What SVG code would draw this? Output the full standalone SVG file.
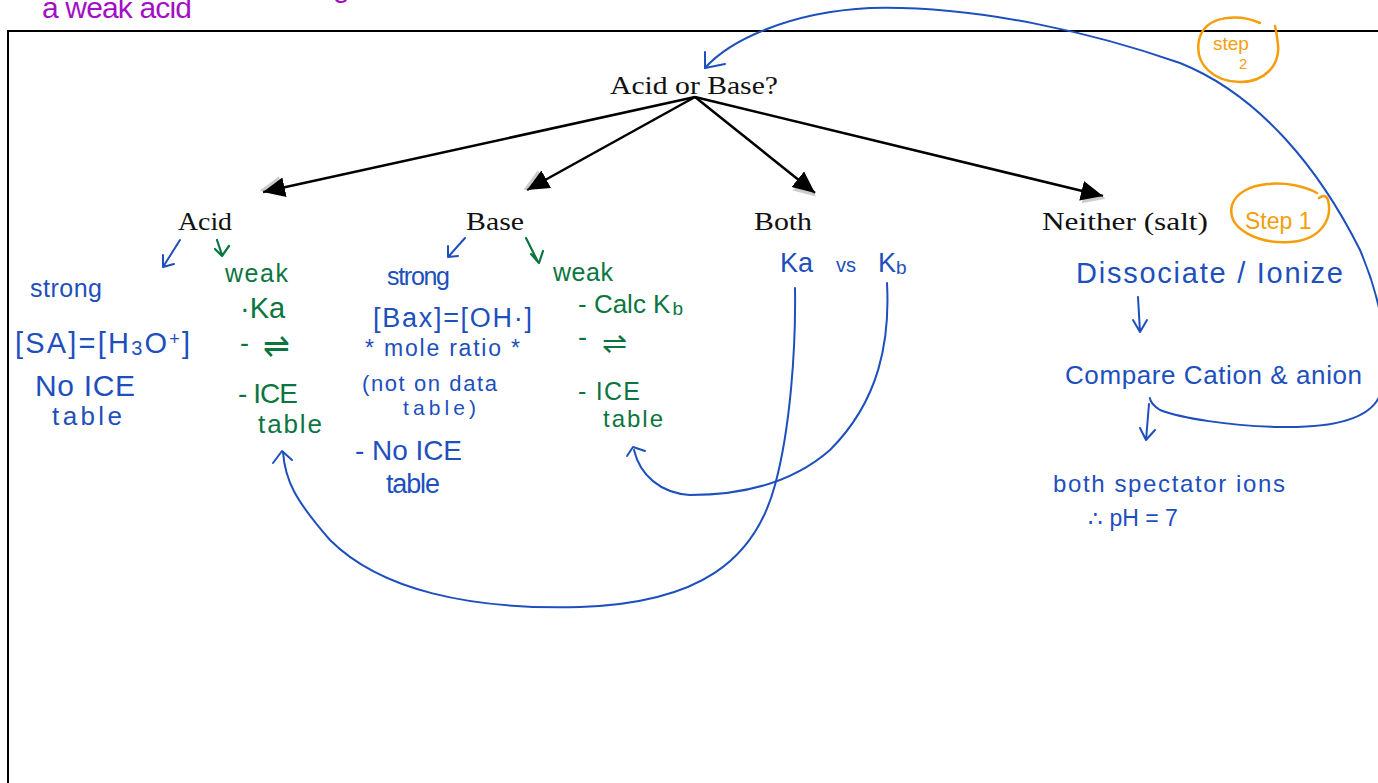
<svg xmlns="http://www.w3.org/2000/svg" width="1378" height="783" viewBox="0 0 1378 783">
<style>
.typed{font-family:"Liberation Serif","DejaVu Serif",serif;font-size:25px;fill:#111}
.hb{font-family:"Liberation Sans","Noto Sans",sans-serif;fill:#1d4fbd}
.hg{font-family:"Liberation Sans","Noto Sans",sans-serif;fill:#0b7540}
.ho{font-family:"Liberation Sans","Noto Sans",sans-serif;fill:#f59d0a}
.hp{font-family:"Liberation Sans","Noto Sans",sans-serif;fill:#a30fc4}
.conn{stroke:#000;stroke-width:2.5;fill:none}
.bl{stroke:#1d4fbd;stroke-width:2;fill:none;stroke-linecap:round;stroke-linejoin:round}
.gr{stroke:#0b7540;stroke-width:2.2;fill:none;stroke-linecap:round;stroke-linejoin:round}
.or{stroke:#f59d0a;stroke-width:2.5;fill:none;stroke-linecap:round}
</style>
<defs>
<marker id="tri" markerUnits="userSpaceOnUse" markerWidth="30" markerHeight="26" refX="22" refY="10" orient="auto">
<path d="M3,2 L25,12 L3,22 z" fill="#aaa" opacity="0.6"/>
<path d="M0,0 L22,10 L0,20 z" fill="#000"/>
</marker>
</defs>
<rect width="1378" height="783" fill="#fff"/>
<path d="M1380,31 L8,31 L8,790" stroke="#000" stroke-width="2" fill="none"/>
<text class="hp" x="42" y="18" font-size="30" textLength="150" lengthAdjust="spacing">a weak acid</text>
<text class="hp" x="333" y="-3" font-size="30">g</text>

<g id="connectors">
<line class="conn" x1="695" y1="97" x2="263" y2="192" marker-end="url(#tri)"/>
<line class="conn" x1="695" y1="97" x2="527" y2="190" marker-end="url(#tri)"/>
<line class="conn" x1="695" y1="97" x2="815" y2="193" marker-end="url(#tri)"/>
<line class="conn" x1="695" y1="97" x2="1103" y2="196" marker-end="url(#tri)"/>
<path class="bl" d="M180,240 L163,267 M163,255 L163,267 L174,264"/>
<path class="gr" d="M217,240 L222,255 M215,249 L222,256 L229,246"/>
<path class="bl" d="M465,238 L449,256 M448,246 L448,257 L458,256"/>
<path class="gr" d="M526,238 L538,262 M531,254 L539,263 L543,251"/>
<path class="bl" d="M1138,297 L1140,332 M1133,320 L1140,332 L1147,320"/>
<path class="bl" d="M1149,404 L1146,440 M1140,428 L1146,440 L1155,430"/>
<path class="bl" d="M705,68 C730,40 790,12 870,8 C980,5 1100,35 1180,63 C1260,95 1320,170 1360,250 C1375,285 1395,350 1380,395 C1370,420 1330,428 1280,427 C1230,426 1180,418 1160,410 C1152,405 1150,400 1150,398"/>
<path class="bl" d="M705,52 L705,68 L725,64"/>
<path class="bl" d="M795,288 C796,350 790,430 775,485 C755,560 700,603 580,607 C470,610 380,590 330,540 C295,500 285,480 283,452"/>
<path class="bl" d="M273,463 L282,451 L292,460"/>
<path class="bl" d="M887,283 C890,340 880,400 830,450 C790,485 740,495 690,495 C660,493 640,475 634,450"/>
<path class="bl" d="M627,456 L633,447 L645,451"/>
</g>

<g id="root"><text class="typed" x="610" y="94" textLength="168" lengthAdjust="spacingAndGlyphs">Acid or Base?</text></g>
<g id="acid"><text class="typed" x="178" y="230" textLength="54" lengthAdjust="spacingAndGlyphs">Acid</text></g>
<g id="base"><text class="typed" x="466" y="230" textLength="58" lengthAdjust="spacingAndGlyphs">Base</text></g>
<g id="both"><text class="typed" x="754" y="230" textLength="58" lengthAdjust="spacingAndGlyphs">Both</text></g>
<g id="neither"><text class="typed" x="1042" y="230" textLength="166" lengthAdjust="spacingAndGlyphs">Neither (salt)</text></g>

<g id="acid-strong">
<text class="hb" x="30" y="297" font-size="25" textLength="72" lengthAdjust="spacing">strong</text>
<text class="hb" x="15" y="353" font-size="29" textLength="175" lengthAdjust="spacing">[SA]=[H<tspan font-size="20" dy="2">3</tspan><tspan dy="-2">O</tspan><tspan font-size="18" dy="-8">+</tspan><tspan dy="8">]</tspan></text>
<text class="hb" x="35" y="396" font-size="30" textLength="100" lengthAdjust="spacing">No ICE</text>
<text class="hb" x="52" y="425" font-size="26" textLength="70" lengthAdjust="spacing">table</text>
</g>
<g id="acid-weak">
<text class="hg" x="225" y="282" font-size="25" textLength="63" lengthAdjust="spacing">weak</text>
<text class="hg" x="240" y="318" font-size="29">·Ka</text>
<text class="hg" x="240" y="352" font-size="27">-</text>
<text class="hg" x="263" y="357" font-size="32">⇌</text>
<text class="hg" x="238" y="403" font-size="28" textLength="60" lengthAdjust="spacing">- ICE</text>
<text class="hg" x="258" y="433" font-size="26" textLength="64" lengthAdjust="spacing">table</text>
</g>
<g id="base-strong">
<text class="hb" x="387" y="285" font-size="25" textLength="63" lengthAdjust="spacing">strong</text>
<text class="hb" x="373" y="327" font-size="27" textLength="159" lengthAdjust="spacing">[Bax]=[OH·]</text>
<text class="hb" x="365" y="356" font-size="23" textLength="155" lengthAdjust="spacing">* mole ratio *</text>
<text class="hb" x="362" y="391" font-size="22" textLength="135" lengthAdjust="spacing">(not on data</text>
<text class="hb" x="403" y="415" font-size="21" textLength="73" lengthAdjust="spacing">table)</text>
<text class="hb" x="355" y="460" font-size="28" textLength="107" lengthAdjust="spacing">- No ICE</text>
<text class="hb" x="386" y="493" font-size="27" textLength="54" lengthAdjust="spacing">table</text>
</g>
<g id="base-weak">
<text class="hg" x="553" y="281" font-size="25" textLength="60" lengthAdjust="spacing">weak</text>
<text class="hg" x="578" y="313" font-size="26">- Calc K<tspan font-size="19" dy="2" dx="2">b</tspan></text>
<text class="hg" x="578" y="346" font-size="27">-</text>
<text class="hg" x="602" y="353" font-size="30">⇌</text>
<text class="hg" x="578" y="400" font-size="25" textLength="62" lengthAdjust="spacing">- ICE</text>
<text class="hg" x="603" y="427" font-size="24" textLength="60" lengthAdjust="spacing">table</text>
</g>
<g id="both-detail">
<text class="hb" x="780" y="272" font-size="27">Ka</text>
<text class="hb" x="836" y="272" font-size="20">vs</text>
<text class="hb" x="878" y="272" font-size="27">K<tspan font-size="19" dy="2">b</tspan></text>
</g>
<g id="neither-detail">
<text class="hb" x="1076" y="283" font-size="29" textLength="267" lengthAdjust="spacing">Dissociate / Ionize</text>
<text class="hb" x="1065" y="384" font-size="26" textLength="297" lengthAdjust="spacing">Compare Cation &amp; anion</text>
<text class="hb" x="1053" y="492" font-size="24" textLength="232" lengthAdjust="spacing">both spectator ions</text>
<text class="hb" x="1088" y="526" font-size="23">∴ pH = 7</text>
</g>
<g id="step1">
<path class="or" d="M1317,193 C1290,178 1240,180 1232,205 C1226,230 1260,244 1290,242 C1320,240 1333,220 1328,200 C1326,194 1322,196 1319,198"/>
<text class="ho" x="1245" y="229" font-size="23">Step 1</text>
</g>
<g id="step2">
<path class="or" d="M1260,23 C1240,14 1205,14 1199,40 C1194,65 1215,82 1240,82 C1265,82 1280,65 1278,45 C1277,36 1276,30 1275,26"/>
<text class="ho" x="1213" y="50" font-size="19">step</text>
<text class="ho" x="1239" y="69" font-size="15">2</text>
</g>
</svg>
